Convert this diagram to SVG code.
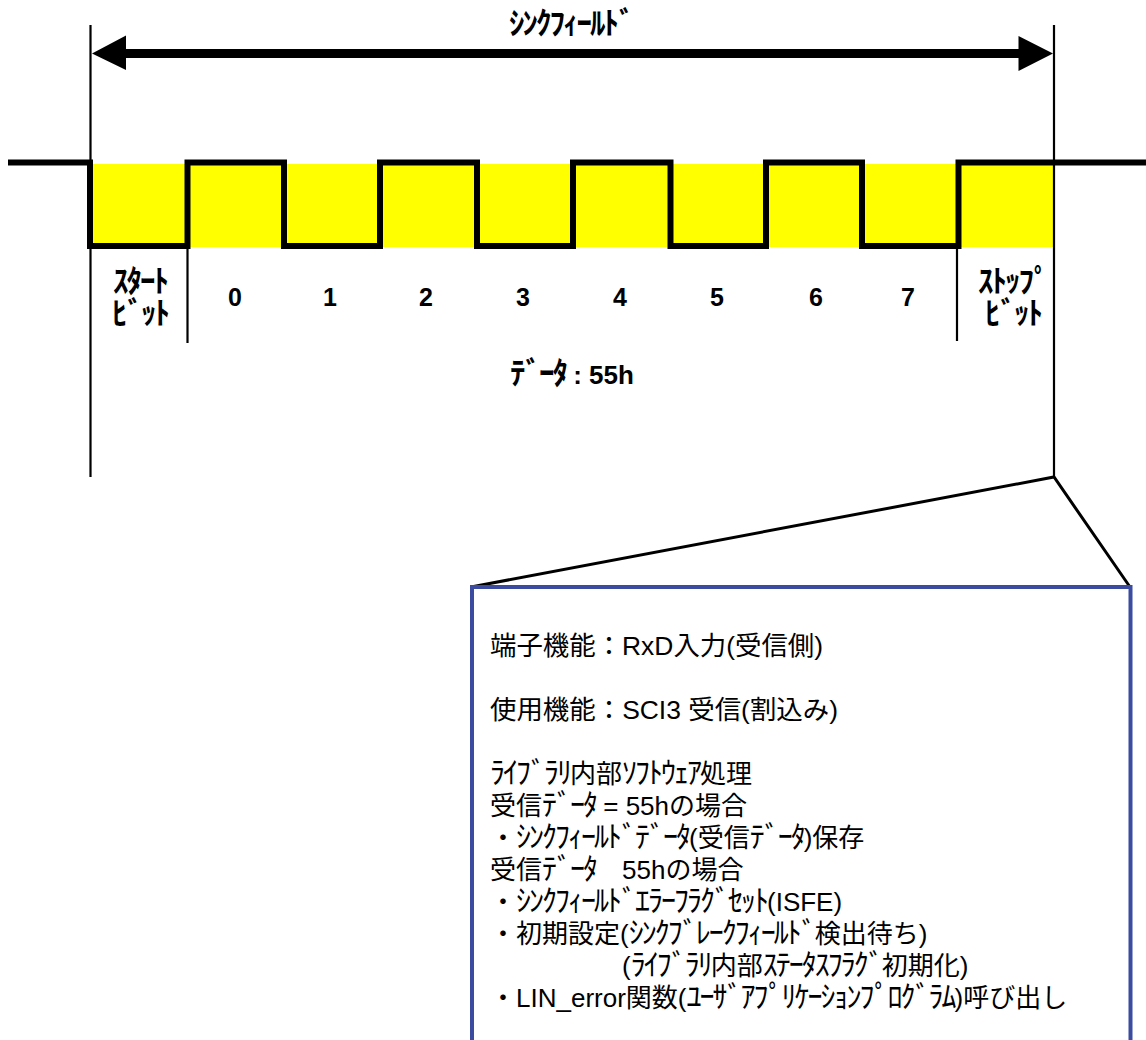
<svg xmlns="http://www.w3.org/2000/svg" width="1146" height="1040" viewBox="0 0 1146 1040">
<style>
text{font-family:"Liberation Sans","Noto Sans CJK JP",sans-serif;fill:#000}
.b{font-weight:700;font-size:31px;letter-spacing:-2px}
.l{font-weight:700;font-size:26px}
.d{font-weight:700;font-size:25px;text-anchor:middle}
.m{text-anchor:middle}
.t{font-size:26px}
.k{font-size:30px;letter-spacing:-2px}
.j{font-size:31px;letter-spacing:-2px}
.thin{fill:none;stroke:#000;stroke-width:2.200}
.sig{fill:none;stroke:#000;stroke-width:6;stroke-linejoin:miter}
</style>
<rect width="1146" height="1040" fill="#fff"/>
<g id="band"><rect x="92" y="164" width="962" height="83" fill="#ff0"/></g>
<g id="connectors">
<path class="thin" d="M90.500 25V477M1054 25V477M187.500 245V343M957 245V341"/>
<path class="sig" d="M8 162.500H90V246H187.500V162.500H284V246H380V162.500H477V246H573V162.500H670.500V246H766V162.500H862V246H958.500V162.500H1146"/>
<path d="M126 49V35.500L92 53.500L126 70V58H1018.500V71L1053 53.500L1018.500 36V49Z" fill="#000"/>
<path d="M471 587L1054 477L1130 587" fill="none" stroke="#000" stroke-width="3"/>
</g>
<g id="title"><text class="b" x="509" y="34">ｼﾝｸﾌｨｰﾙﾄﾞ</text></g>
<g id="start-bit"><text class="b m" x="140" y="292">ｽﾀｰﾄ</text><text class="b m" x="140" y="324">ﾋﾞｯﾄ</text></g>
<g id="bits">
<text class="d" x="235" y="306">0</text><text class="d" x="330" y="306">1</text><text class="d" x="426" y="306">2</text><text class="d" x="523" y="306">3</text><text class="d" x="620" y="306">4</text><text class="d" x="717" y="306">5</text><text class="d" x="816" y="306">6</text><text class="d" x="908" y="306">7</text>
</g>
<g id="stop-bit"><text class="b" x="978" y="292">ｽﾄｯﾌﾟ</text><text class="b" x="985" y="324">ﾋﾞｯﾄ</text></g>
<g id="data"><text class="l" x="510" y="384"><tspan class="j" font-weight="700">ﾃﾞｰﾀ</tspan> : 55h</text></g>
<g id="panel">
<path d="M472 1040V587H1130.500V1040" fill="#fff" stroke="#3b4ca0" stroke-width="4"/>
<text class="t" x="490" y="655" textLength="333" lengthAdjust="spacingAndGlyphs">端子機能：RxD入力(受信側)</text>
<text class="t" x="490" y="719" textLength="348" lengthAdjust="spacingAndGlyphs">使用機能：SCI3 受信(割込み)</text>
<text class="t" x="490" y="783"><tspan class="k">ﾗｲﾌﾞﾗﾘ</tspan>内部<tspan class="k">ｿﾌﾄｳｪｱ</tspan>処理</text>
<text class="t" x="490" y="815">受信<tspan class="k">ﾃﾞｰﾀ</tspan> = 55hの場合</text>
<text class="t" x="490" y="847">・<tspan class="k">ｼﾝｸﾌｨｰﾙﾄﾞﾃﾞｰﾀ</tspan>(受信<tspan class="k">ﾃﾞｰﾀ</tspan>)保存</text>
<text class="t" y="879"><tspan x="490">受信</tspan><tspan class="k">ﾃﾞｰﾀ</tspan> <tspan x="622">55hの場合</tspan></text>
<text class="t" x="490" y="911">・<tspan class="k">ｼﾝｸﾌｨｰﾙﾄﾞｴﾗｰﾌﾗｸﾞｾｯﾄ</tspan>(ISFE)</text>
<text class="t" x="490" y="943">・初期設定(<tspan class="k">ｼﾝｸﾌﾞﾚｰｸﾌｨｰﾙﾄﾞ</tspan>検出待ち)</text>
<text class="t" x="622" y="975">(<tspan class="k">ﾗｲﾌﾞﾗﾘ</tspan>内部<tspan class="k">ｽﾃｰﾀｽﾌﾗｸﾞ</tspan>初期化)</text>
<text class="t" x="490" y="1007">・LIN_error関数(<tspan class="k">ﾕｰｻﾞｱﾌﾟﾘｹｰｼｮﾝﾌﾟﾛｸﾞﾗﾑ</tspan>)呼び出し</text>
</g>
</svg>
